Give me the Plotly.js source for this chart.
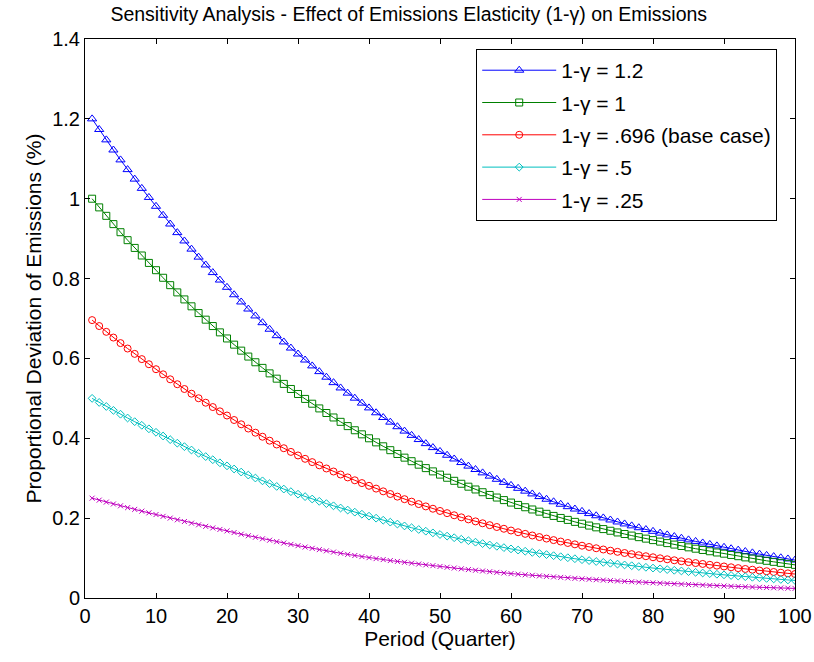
<!DOCTYPE html>
<html>
<head>
<meta charset="utf-8">
<script src="https://cdn.plot.ly/plotly-3.0.1.min.js"></script>
<style>html,body{margin:0;padding:0;background:#fff;}#chart{width:814px;height:662px;}</style>
</head>
<body>
<div id="chart"></div>
<script>
// Period (Quarter)
var periods = [1,2,3,4,5,6,7,8,9,10,11,12,13,14,15,16,17,18,19,20,21,22,23,24,25,26,27,28,29,30,31,32,33,34,35,36,37,38,39,40,41,42,43,44,45,46,47,48,49,50,51,52,53,54,55,56,57,58,59,60,61,62,63,64,65,66,67,68,69,70,71,72,73,74,75,76,77,78,79,80,81,82,83,84,85,86,87,88,89,90,91,92,93,94,95,96,97,98,99,100];

var seriesNames = ["1-\u03b3 = 1.2", "1-\u03b3 = 1", "1-\u03b3 = .696 (base case)", "1-\u03b3 = .5", "1-\u03b3 = .25"];

var gamma12 = [1.2000,1.1734,1.1474,1.1220,1.0972,1.0729,1.0491,1.0259,1.0032,0.9810,
0.9585,0.9366,0.9151,0.8942,0.8737,0.8537,0.8341,0.8150,0.7963,0.7781,
0.7595,0.7414,0.7237,0.7064,0.6895,0.6731,0.6570,0.6413,0.6260,0.6111,
0.5960,0.5813,0.5670,0.5530,0.5394,0.5261,0.5131,0.5005,0.4881,0.4761,
0.4639,0.4520,0.4404,0.4290,0.4180,0.4073,0.3968,0.3866,0.3767,0.3670,
0.3575,0.3482,0.3392,0.3303,0.3218,0.3134,0.3052,0.2973,0.2896,0.2820,
0.2747,0.2676,0.2607,0.2540,0.2474,0.2410,0.2348,0.2287,0.2228,0.2170,
0.2114,0.2060,0.2006,0.1954,0.1904,0.1855,0.1807,0.1760,0.1714,0.1670,
0.1625,0.1581,0.1539,0.1497,0.1456,0.1417,0.1379,0.1342,0.1305,0.1270,
0.1234,0.1199,0.1164,0.1131,0.1099,0.1067,0.1037,0.1007,0.0978,0.0950];

var gamma10 = [1.0000,0.9783,0.9571,0.9364,0.9161,0.8962,0.8768,0.8578,0.8392,0.8210,
0.8020,0.7835,0.7654,0.7478,0.7305,0.7136,0.6971,0.6811,0.6653,0.6500,
0.6345,0.6195,0.6047,0.5904,0.5763,0.5626,0.5493,0.5362,0.5235,0.5110,
0.4986,0.4866,0.4748,0.4633,0.4521,0.4412,0.4305,0.4201,0.4099,0.4000,
0.3898,0.3799,0.3702,0.3607,0.3515,0.3426,0.3339,0.3253,0.3171,0.3090,
0.3012,0.2935,0.2861,0.2788,0.2718,0.2649,0.2581,0.2516,0.2452,0.2390,
0.2331,0.2273,0.2217,0.2162,0.2108,0.2056,0.2005,0.1956,0.1907,0.1860,
0.1814,0.1770,0.1726,0.1684,0.1642,0.1602,0.1563,0.1524,0.1487,0.1450,
0.1412,0.1375,0.1338,0.1303,0.1269,0.1235,0.1203,0.1171,0.1140,0.1110,
0.1078,0.1047,0.1017,0.0988,0.0960,0.0932,0.0906,0.0880,0.0855,0.0830];

var gamma0696 = [0.6960,0.6811,0.6666,0.6523,0.6384,0.6248,0.6114,0.5983,0.5855,0.5730,
0.5602,0.5477,0.5354,0.5234,0.5117,0.5003,0.4891,0.4782,0.4675,0.4570,
0.4458,0.4350,0.4244,0.4140,0.4039,0.3940,0.3844,0.3751,0.3659,0.3570,
0.3486,0.3403,0.3323,0.3244,0.3168,0.3093,0.3020,0.2948,0.2878,0.2810,
0.2740,0.2671,0.2604,0.2539,0.2475,0.2413,0.2352,0.2294,0.2236,0.2180,
0.2125,0.2072,0.2020,0.1969,0.1919,0.1871,0.1824,0.1778,0.1734,0.1690,
0.1647,0.1606,0.1566,0.1526,0.1488,0.1450,0.1414,0.1378,0.1344,0.1310,
0.1278,0.1246,0.1215,0.1185,0.1156,0.1127,0.1099,0.1072,0.1046,0.1020,
0.0994,0.0969,0.0945,0.0921,0.0898,0.0875,0.0853,0.0831,0.0810,0.0790,
0.0769,0.0748,0.0727,0.0708,0.0688,0.0670,0.0652,0.0634,0.0617,0.0600];

var gamma05 = [0.5000,0.4898,0.4797,0.4699,0.4603,0.4508,0.4416,0.4325,0.4237,0.4150,
0.4057,0.3966,0.3878,0.3791,0.3706,0.3623,0.3542,0.3463,0.3386,0.3310,
0.3231,0.3154,0.3079,0.3005,0.2934,0.2864,0.2795,0.2728,0.2663,0.2600,
0.2539,0.2479,0.2421,0.2364,0.2309,0.2254,0.2202,0.2150,0.2099,0.2050,
0.1999,0.1948,0.1900,0.1852,0.1805,0.1760,0.1716,0.1673,0.1631,0.1590,
0.1550,0.1510,0.1472,0.1435,0.1398,0.1363,0.1328,0.1295,0.1262,0.1230,
0.1200,0.1171,0.1142,0.1114,0.1087,0.1060,0.1034,0.1009,0.0984,0.0960,
0.0937,0.0914,0.0892,0.0870,0.0849,0.0828,0.0808,0.0788,0.0769,0.0750,
0.0731,0.0712,0.0694,0.0677,0.0660,0.0643,0.0626,0.0611,0.0595,0.0580,
0.0564,0.0549,0.0534,0.0519,0.0505,0.0491,0.0478,0.0465,0.0452,0.0440];

var gamma025 = [0.2500,0.2451,0.2402,0.2355,0.2309,0.2263,0.2219,0.2175,0.2132,0.2090,
0.2045,0.2001,0.1958,0.1915,0.1874,0.1833,0.1794,0.1755,0.1717,0.1680,
0.1639,0.1598,0.1559,0.1521,0.1483,0.1447,0.1411,0.1377,0.1343,0.1310,
0.1276,0.1244,0.1212,0.1181,0.1150,0.1121,0.1092,0.1064,0.1037,0.1010,
0.0986,0.0962,0.0938,0.0916,0.0893,0.0872,0.0850,0.0830,0.0810,0.0790,
0.0770,0.0750,0.0731,0.0712,0.0694,0.0676,0.0659,0.0642,0.0626,0.0610,
0.0596,0.0581,0.0568,0.0554,0.0541,0.0528,0.0516,0.0504,0.0492,0.0480,
0.0469,0.0458,0.0448,0.0437,0.0427,0.0417,0.0408,0.0398,0.0389,0.0380,
0.0371,0.0362,0.0354,0.0346,0.0338,0.0330,0.0322,0.0314,0.0307,0.0300,
0.0293,0.0287,0.0281,0.0274,0.0268,0.0262,0.0257,0.0251,0.0245,0.0240];

var allSeries = [gamma12, gamma10, gamma0696, gamma05, gamma025];
var colors = ["#0000ff", "#008000", "#ff0000", "#00bfbf", "#bf00bf"];
var symbols = ["triangle-up-open", "square-open", "circle-open", "diamond-open", "x-thin-open"];
var sizes = [8, 7, 7, 6, 5];

var FONT = "Liberation Sans, Arial, Helvetica, sans-serif";

var traces = allSeries.map(function (ys, i) {
  return {
    x: periods,
    y: ys,
    type: "scatter",
    mode: "lines+markers",
    name: seriesNames[i],
    legendgroup: "g" + i,
    line: {color: colors[i], width: 1},
    marker: {symbol: symbols[i], size: sizes[i], color: colors[i], line: {color: colors[i], width: 1}}
  };
});

var axisCommon = {
  showgrid: false,
  zeroline: false,
  showline: true,
  mirror: "ticks",
  linecolor: "#000",
  linewidth: 1,
  ticks: "inside",
  ticklen: 5,
  tickcolor: "#000",
  tickfont: {family: FONT, size: 20, color: "#000"}
};

var layout = {
  width: 814,
  height: 662,
  paper_bgcolor: "#fff",
  plot_bgcolor: "#fff",
  margin: {l: 85, r: 19, t: 39, b: 64},
  showlegend: true,
  title: {
    text: "Sensitivity Analysis - Effect of Emissions Elasticity (1-\u03b3) on Emissions",
    font: {family: FONT, size: 19.5, color: "#000"},
    x: 0.456, xref: "paper", xanchor: "center",
    y: 0.978, yref: "container", yanchor: "middle"
  },
  xaxis: Object.assign({}, axisCommon, {
    range: [0, 100],
    tickvals: [0,10,20,30,40,50,60,70,80,90,100],
    title: {text: "Period (Quarter)", font: {family: FONT, size: 21, color: "#000"}, standoff: 2}
  }),
  yaxis: Object.assign({}, axisCommon, {
    range: [0, 1.4],
    tickvals: [0,0.2,0.4,0.6,0.8,1,1.2,1.4],
    ticktext: ["0","0.2","0.4","0.6","0.8","1","1.2","1.4"],
    title: {text: "Proportional Deviation of Emissions (%)", font: {family: FONT, size: 21, color: "#000"}, standoff: 4}
  }),
  legend: {
    x: 0.551, y: 0.982, xanchor: "left", yanchor: "top",
    bgcolor: "#fff", bordercolor: "#000", borderwidth: 1,
    font: {family: FONT, size: 21, color: "#000"},
    traceorder: "grouped",
    tracegroupgap: 2,
    itemwidth: 74
  }
};

Plotly.newPlot("chart", traces, layout, {displayModeBar: false, staticPlot: true});
</script>
</body>
</html>
